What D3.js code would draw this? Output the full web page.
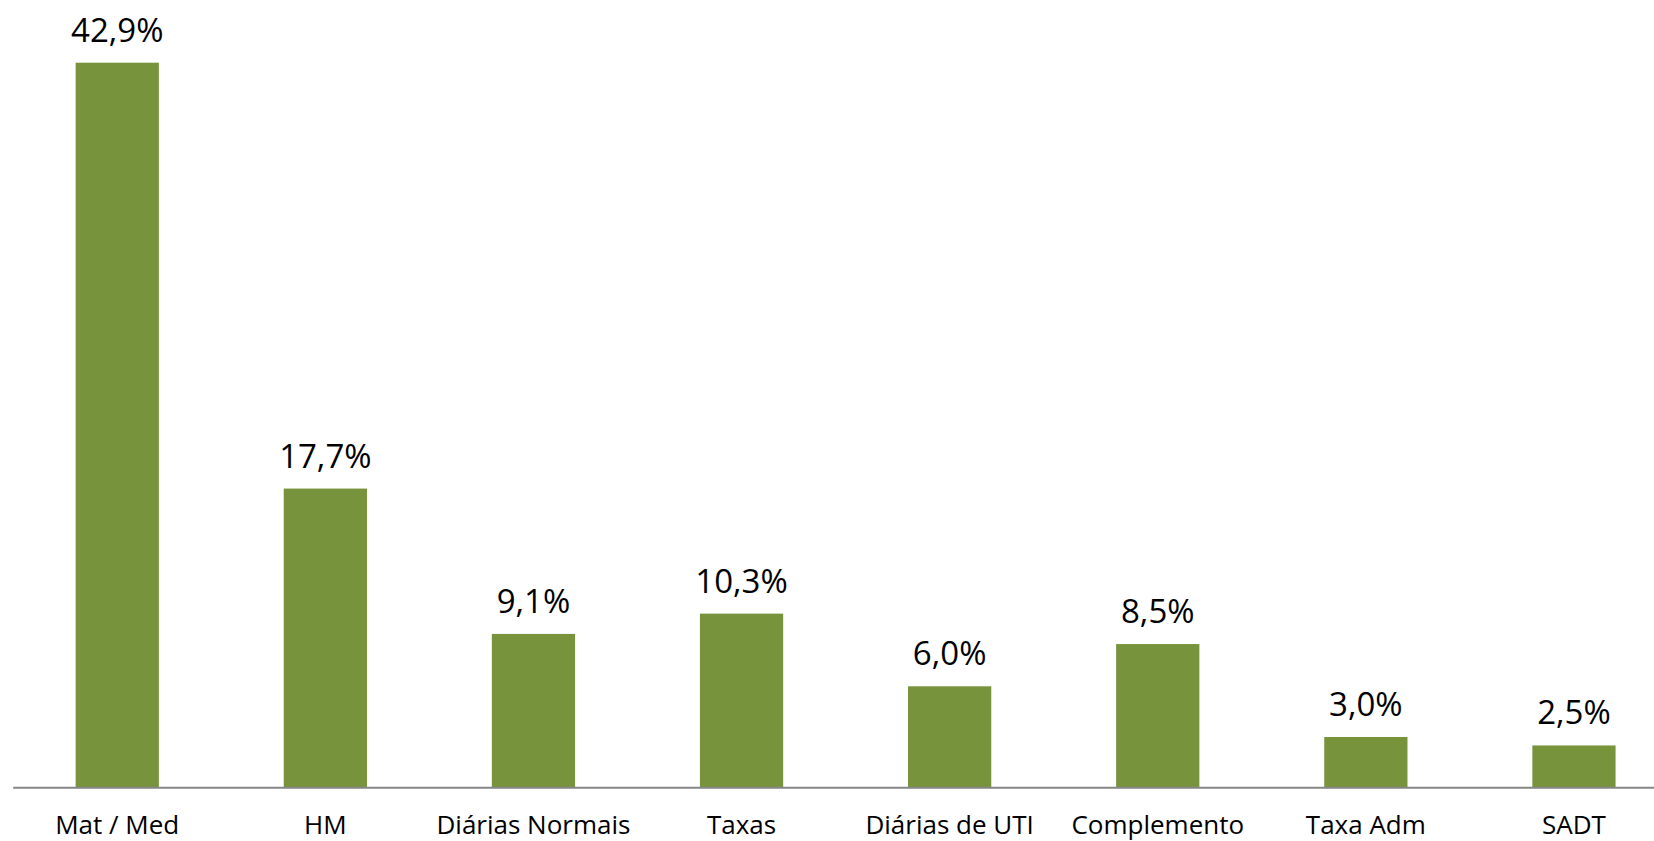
<!DOCTYPE html>
<html>
<head>
<meta charset="utf-8">
<script src="https://cdn.jsdelivr.net/npm/d3@7"></script>
<style>
html, body { margin: 0; padding: 0; background: #fff; overflow: hidden; }
svg { display: block; }
</style>
</head>
<body>
<svg id="chart" width="1654" height="841"></svg>
<script>
const categories = ["Mat / Med", "HM", "Diárias Normais", "Taxas", "Diárias de UTI", "Complemento", "Taxa Adm", "SADT"];
const values = [42.9, 17.7, 9.1, 10.3, 6.0, 8.5, 3.0, 2.5];
const valueLabels = ["42,9%", "17,7%", "9,1%", "10,3%", "6,0%", "8,5%", "3,0%", "2,5%"];

const svg = d3.select("#chart");
const W = 1654, H = 841;
const baseline = 787.7;

const x = d3.scaleBand()
  .domain(categories)
  .range([13.2, 1678])
  .paddingInner(0.6)
  .paddingOuter(0.3);

const y = d3.scaleLinear()
  .domain([0, 45])
  .range([baseline, baseline - 45 * (725 / 42.9)]);

const data = categories.map((c, i) => ({ c, v: values[i], label: valueLabels[i] }));

svg.append("g").selectAll("rect")
  .data(data)
  .join("rect")
  .attr("x", d => x(d.c))
  .attr("y", d => y(d.v))
  .attr("width", x.bandwidth())
  .attr("height", d => y(0) - y(d.v))
  .attr("fill", "#77933C");

svg.append("line")
  .attr("x1", 13.2).attr("x2", W)
  .attr("y1", y(0)).attr("y2", y(0))
  .attr("stroke", "#868686")
  .attr("stroke-width", 2);

svg.append("g").selectAll("text")
  .data(data)
  .join("text")
  .attr("x", d => x(d.c) + x.bandwidth() / 2)
  .attr("y", d => y(d.v) - 21)
  .attr("text-anchor", "middle")
  .attr("font-family", "'Open Sans', sans-serif")
  .attr("font-size", 33)
  .attr("fill", "#000")
  .text(d => d.label);

svg.append("g").selectAll("text")
  .data(data)
  .join("text")
  .attr("x", d => x(d.c) + x.bandwidth() / 2)
  .attr("y", 834.3)
  .attr("text-anchor", "middle")
  .attr("font-family", "'Open Sans', sans-serif")
  .attr("font-size", 26)
  .attr("fill", "#000")
  .text(d => d.c);
</script>
</body>
</html>
